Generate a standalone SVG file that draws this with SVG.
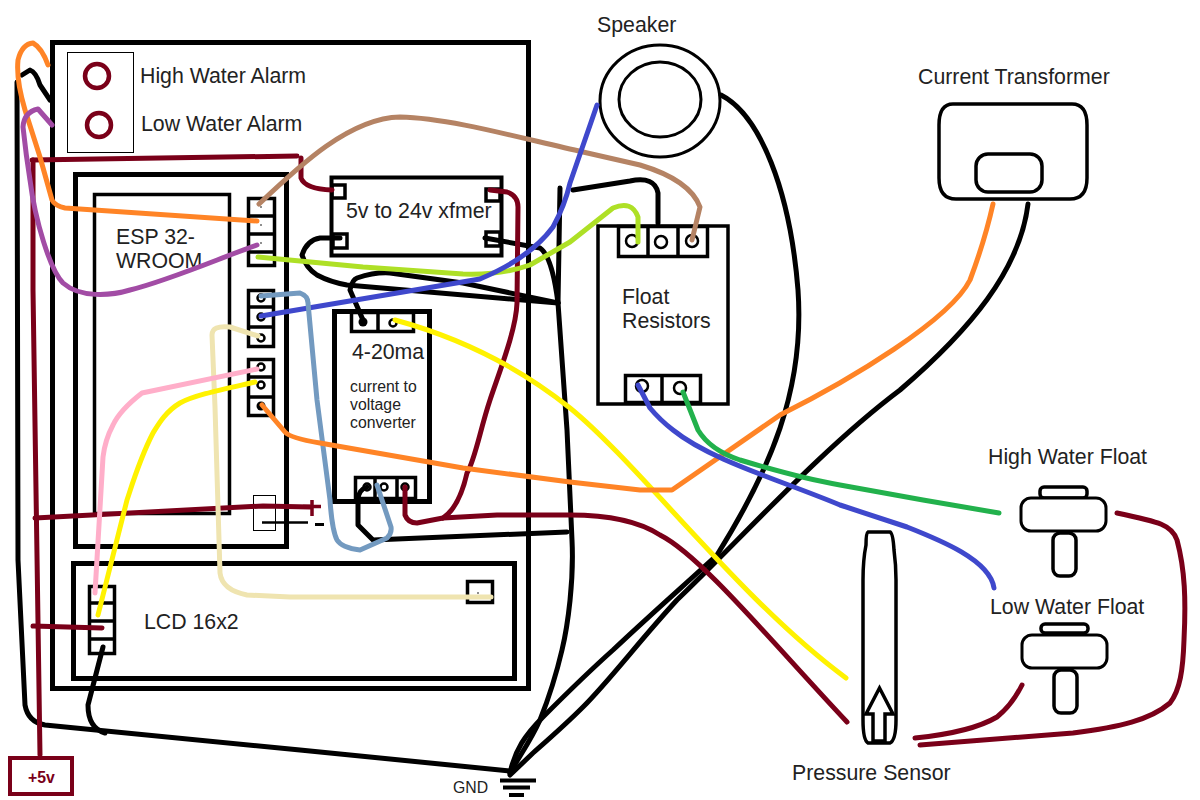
<svg xmlns="http://www.w3.org/2000/svg" width="1200" height="800" viewBox="0 0 1200 800">
<style>
text{font-family:"Liberation Sans",Arial,sans-serif;fill:#222;font-size:21.300px}
.s{font-size:15.800px}
.b{fill:none;stroke:#000;stroke-width:5}
.t{fill:none;stroke:#000;stroke-width:3.500}
.n{fill:none;stroke:#000;stroke-width:1}
.h{fill:#fff;stroke:#000;stroke-width:3}
.w{fill:none;stroke-width:5;stroke-linecap:round;stroke-linejoin:round}
.m{fill:#fff;stroke:#000;stroke-width:4}
.k{stroke:#000}.r{stroke:#7a0019}
.o{fill:#fff;stroke:#000;stroke-width:2.500}
.d{fill:#000}
</style>
<rect width="1200" height="800" fill="#fff"/>
<g id="enclosure"><rect class="b" x="52.500" y="42.500" width="476" height="646"/></g>
<g id="alarms">
<rect class="n" x="67.500" y="52.500" width="66" height="100"/>
<circle cx="97" cy="76" r="12" fill="none" stroke="#7a0019" stroke-width="4.500"/>
<circle cx="99" cy="125" r="12" fill="none" stroke="#7a0019" stroke-width="4.500"/>
<text x="140" y="83">High Water Alarm</text>
<text x="141" y="131">Low Water Alarm</text>
</g>
<g id="esp32">
<rect class="b" x="75.500" y="174.500" width="211" height="372"/>
<rect class="t" x="94.500" y="194.500" width="135" height="319"/>
<text x="116" y="244">ESP 32-</text><text x="116" y="268">WROOM</text>
<rect class="t" x="248.500" y="198.500" width="26" height="67"/>
<path class="t" d="M249 216H275M249 234H275M249 252H275"/>
<circle class="d" cx="261" cy="207" r="0.800"/><circle class="d" cx="261" cy="225" r="0.800"/><circle class="d" cx="261" cy="243" r="0.800"/>
<rect class="t" x="248.500" y="290.500" width="25" height="56"/>
<path class="t" d="M249 307H274M249 327H274"/>
<rect class="t" x="248.500" y="359.500" width="25" height="56"/>
<path class="t" d="M249 377H274M249 397H274"/>
<circle class="o" cx="261" cy="298" r="3.500"/><circle class="o" cx="261" cy="317" r="3.500"/><circle class="o" cx="261" cy="338" r="3.500"/>
<circle class="o" cx="261" cy="367" r="3.500"/><circle class="o" cx="261" cy="385" r="3.500"/>
<circle class="d" cx="261" cy="406" r="4.500"/>
<rect class="n" x="253.500" y="495.500" width="22" height="35"/>
<path d="M312 500V516M303 506.500H321" fill="none" stroke="#7a0019" stroke-width="3.500"/>
<path d="M315 524.500H324" stroke="#000" stroke-width="3"/>
</g>
<g id="xfmer">
<rect class="m" x="331.500" y="177.500" width="170" height="78"/>
<rect class="t" x="332" y="185" width="13" height="13"/><rect class="t" x="486" y="189" width="14" height="12"/>
<rect class="t" x="333" y="234" width="14" height="14"/><rect class="t" x="486" y="232" width="14" height="14"/>
<text x="346" y="218">5v to 24v xfmer</text>
</g>
<g id="converter">
<rect class="b" x="334.500" y="311.500" width="95" height="190"/>
<rect class="t" x="351.500" y="312.500" width="62" height="19"/><path class="t" d="M378 312V331"/>
<circle class="d" cx="363" cy="322" r="4.500"/>
<circle class="o" cx="393" cy="323" r="3.500"/>
<text x="352" y="359">4-20ma</text>
<text x="350" y="392" class="s">current to</text>
<text x="350" y="410" class="s">voltage</text>
<text x="350" y="428" class="s">converter</text>
<rect class="t" x="355.500" y="477.500" width="60" height="21"/><path class="t" d="M375 477V498M397 477V498"/>
<circle class="o" cx="367" cy="487" r="3.500"/>
<circle class="o" cx="384" cy="487" r="3.500"/>
<circle class="o" cx="405" cy="487" r="3.500"/>
</g>
<g id="lcd">
<rect class="b" x="73.500" y="563.500" width="441" height="115"/>
<rect class="t" x="89.500" y="586.500" width="25" height="67"/>
<path class="t" d="M89 603H114M89 621H114M89 639H114"/>
<text x="144" y="629">LCD 16x2</text>
<rect class="t" x="467.500" y="581.500" width="25" height="21"/>
<circle class="d" cx="478" cy="593" r="0.800"/>
</g>
<g id="float-resistors">
<rect class="t" x="598" y="226" width="130" height="178"/>
<rect class="t" x="618.500" y="226.500" width="89" height="30"/><path class="t" d="M648 227V256M678 227V256"/>
<rect class="t" x="625.500" y="375.500" width="75" height="27"/><path class="t" d="M662 375V402"/>
<circle class="o" cx="632" cy="241" r="6"/><circle class="o" cx="661" cy="242" r="6"/><circle class="o" cx="692" cy="241" r="6"/>
<circle class="o" cx="642" cy="386" r="6"/><circle class="o" cx="680" cy="388" r="6"/>
<text x="622" y="304">Float</text><text x="622" y="328">Resistors</text>
</g>
<g id="speaker">
<ellipse cx="660" cy="101" rx="60" ry="56" fill="none" stroke="#000" stroke-width="3"/>
<ellipse cx="660" cy="99.500" rx="41" ry="37.500" fill="none" stroke="#000" stroke-width="3"/>
<text x="597" y="32">Speaker</text>
</g>
<g id="current-transformer">
<path class="t" d="M953 104H1072Q1087 104 1087 125V178Q1087 199 1070 199H956Q939 199 939 178V125Q939 104 953 104Z"/>
<rect class="t" x="976" y="154" width="66" height="38" rx="12"/>
<text x="918" y="84">Current Transformer</text>
</g>
<g id="high-float">
<text x="988" y="464">High Water Float</text>
<rect class="t" x="1040" y="487" width="47" height="11" rx="4"/>
<rect class="h" x="1021" y="498" width="85" height="33" rx="10"/>
<rect class="t" x="1053" y="533" width="23" height="43" rx="7"/>
</g>
<g id="low-float">
<text x="990" y="614">Low Water Float</text>
<rect class="t" x="1041" y="624" width="47" height="9" rx="4"/>
<rect class="h" x="1022" y="635" width="85" height="33" rx="10"/>
<rect class="t" x="1054" y="670" width="23" height="43" rx="7"/>
</g>
<g id="pressure-sensor">
<path class="t" d="M868 532H890Q893 533 894 550Q896 565 896 580V720Q896 740 890 743H868Q863 740 863 720V580Q863 560 866 545Q866 533 868 532Z"/>
<path class="t" d="M866 714L879.500 688L893 714H885V741H873V714Z"/>
<text x="792" y="780">Pressure Sensor</text>
</g>
<g id="gnd">
<path d="M500 780.500H536M503 787.500H530M509 795H524" fill="none" stroke="#000" stroke-width="4"/>
<text x="453" y="793" class="s">GND</text>
</g>
<g id="power">
<rect x="10" y="758" width="62" height="36" fill="#fff" stroke="#7a0019" stroke-width="4"/>
<text x="28" y="783" class="s" style="fill:#7a0019;font-weight:bold">+5v</text>
</g>
<g id="connectors">
<path class="w k" d="M560 188L558 303L567 430L572 540C574 580 568 625 562 650C555 680 548 700 540 720C530 742 520 755 510 773"/>
<path class="w k" d="M17 82L18 560L25 705Q28 722 45 725L300 750L510 771"/>
<path class="w k" d="M22 75L30 70Q36 72 40 85L50 100"/>
<path class="w k" d="M721 95C760 115 790 190 798 290C805 390 770 470 717 555C690 580 650 615 613 650C585 675 565 695 543 717C525 735 515 750 510 773"/>
<path class="w k" d="M1028 204C1020 270 970 330 900 390C820 450 740 540 677 600C640 640 610 680 583 707C565 725 550 738 533 753L510 775"/>
<path class="w k" d="M573 190L630 181Q655 176 658 193L658 223"/>
<path class="w k" d="M485 238L540 248Q552 256 558 303"/>
<path class="w k" d="M340 238H320Q307 240 302 255Q306 268 317 275Q330 282 347 285L558 303"/>
<path class="w k" d="M363 320L350 290Q352 280 357 278Q375 272 390 273L463 283L558 303"/>
<path class="w k" d="M367 487Q358 490 358 500V525L373 540L567 532"/>
<path class="w k" d="M103 647L88 705Q88 728 105 733"/>
<path d="M262 522.500H308" stroke="#000" stroke-width="2.500"/>
<path class="w r" d="M32 160L297 156"/>
<path class="w r" d="M33 160V290L40 755"/>
<path class="w r" d="M301 158V178Q305 189 332 190"/>
<path class="w r" d="M490 190L507 192Q518 196 518 207L517 303C516 330 500 370 490 400C480 430 475 460 467 473C462 495 455 510 443 518"/>
<path class="w r" d="M405 487V515Q408 523 417 523L443 518L497 515L570 515C610 515 640 522 660 535C700 555 770 640 847 722"/>
<path class="w r" d="M35 518L263 506L310 507"/>
<path class="w r" d="M33 626L102 628"/>
<path class="w r" d="M915 738C945 735 975 730 997 717Q1012 705 1022 685"/>
<path class="w r" d="M920 745L1073 733C1120 727 1150 720 1170 703C1180 690 1183 670 1184 640C1186 600 1185 570 1177 540C1172 525 1160 522 1117 513"/>
<path class="w" stroke="#ff8426" d="M48 65Q42 48 33 43Q22 44 18 60Q16 80 25 110L40 157L52 200Q55 206 65 208L257 221"/>
<path class="w" stroke="#a24ca5" d="M52 125L38 109Q24 112 23 127C26 155 30 180 30 180C35 220 50 270 63 283C80 298 110 296 130 290C170 280 220 258 257 245"/>
<path class="w" stroke="#b58364" d="M259 204C300 165 350 118 400 117C450 118 520 138 583 152L640 165Q690 180 700 207L692 240"/>
<path class="w" stroke="#aee026" d="M258 257L363 267L463 274C490 275 510 272 530 265L570 242L613 208Q632 200 638 217V242"/>
<path class="w" stroke="#3f48cc" d="M261 316L480 279Q530 258 553 227Q565 205 570 183L597 105"/>
<path class="w" stroke="#739ac0" d="M261 296L300 293Q308 296 308 303L317 400L330 500Q332 530 337 540Q342 548 360 550L387 538Q392 533 391 527L377 485"/>
<path class="w" stroke="#efe4b0" d="M258 336L230 327Q212 325 212 335L215 407L220 573Q222 590 247 595L290 597L491 597"/>
<path class="w" stroke="#ffaec9" d="M257 369L142 393Q120 410 113 425Q105 440 103 457L95 593"/>
<path class="w" stroke="#fff200" d="M255 382C220 390 195 395 180 403C165 412 158 425 153 433C140 458 132 485 127 500L98 615"/>
<path class="w" stroke="#fff200" d="M395 320C450 335 510 360 570 408C640 465 740 600 846 678"/>
<path class="w" stroke="#ff8426" d="M262 405L285 432Q290 438 320 443L463 468L570 482L640 490H672L780 415C850 380 950 320 970 280Q985 240 993 204"/>
<path class="w" stroke="#3f48cc" d="M638 385L650 408Q660 420 673 430C710 460 780 480 840 505L907 527C940 540 990 560 994 588"/>
<path class="w" stroke="#22b14c" d="M683 392L698 430Q710 450 740 460C780 472 810 480 840 485L923 500L999 513"/>
</g>
</svg>
